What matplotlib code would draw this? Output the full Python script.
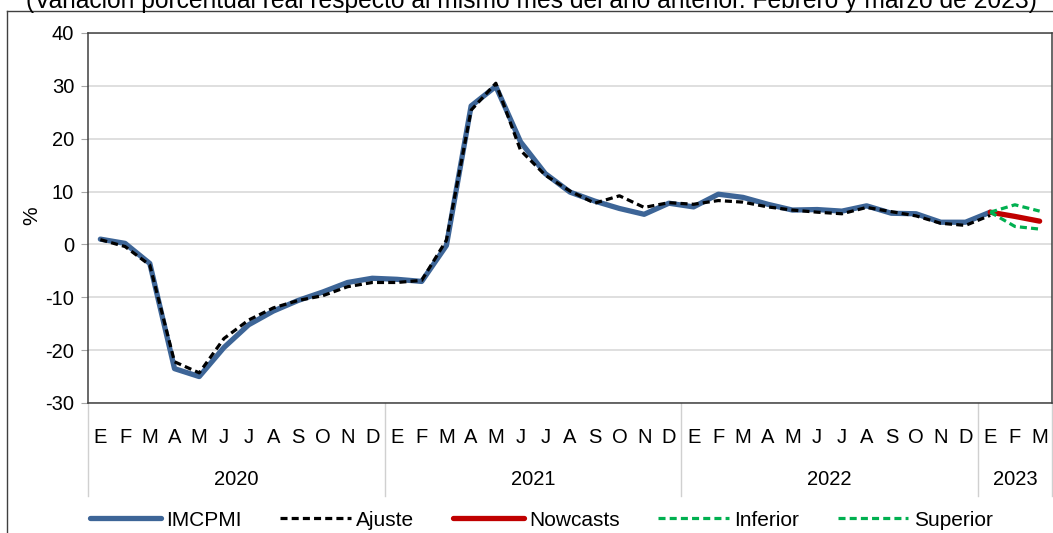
import matplotlib
matplotlib.use('Agg')
import matplotlib.pyplot as plt
import matplotlib.transforms as mtransforms
from matplotlib.lines import Line2D

plt.rcParams['font.family'] = ['Liberation Sans', 'DejaVu Sans']
plt.rcParams['axes.unicode_minus'] = False

months = ['E', 'F', 'M', 'A', 'M', 'J', 'J', 'A', 'S', 'O', 'N', 'D'] * 3 + ['E', 'F', 'M']
years = ['2020', '2021', '2022', '2023']
year_len = [12, 12, 12, 3]

imcpmi = [1.0, 0.2, -3.6, -23.5, -25.0, -19.5, -15.2, -12.6, -10.6, -9.0, -7.2, -6.4,
          -6.6, -7.0, -0.2, 26.2, 29.9, 19.4, 13.4, 9.9, 8.2, 6.8, 5.7, 7.8,
          7.1, 9.5, 8.9, 7.6, 6.5, 6.6, 6.3, 7.3, 5.9, 5.8, 4.2, 4.2,
          6.1]
ajuste = [0.9, -0.4, -3.9, -22.2, -24.3, -17.8, -14.3, -12.0, -10.6, -9.7, -8.0, -7.2,
          -7.2, -6.8, 0.8, 25.4, 30.5, 17.8, 13.1, 10.1, 7.8, 9.2, 7.0, 7.9,
          7.6, 8.3, 8.0, 7.1, 6.5, 6.1, 5.8, 7.0, 6.2, 5.4, 4.0, 3.6,
          5.5]
nowcast = [6.1, 5.3, 4.4]
inferior = [6.1, 3.4, 2.9]
superior = [6.1, 7.5, 6.3]

n = len(months)
x = list(range(n))
xf = x[36:39]

blue = '#3D6597'
dash = (0, (2.2, 1.3))

fig = plt.figure(figsize=(10.53, 5.33), dpi=100)
ax = fig.add_axes([88/1053, 1-403/533, (1052-88)/1053, (403-33)/533])

ax.plot(x[:len(imcpmi)], imcpmi, color=blue, lw=3.8, solid_capstyle='round', zorder=3)
ax.plot(x[:len(ajuste)], ajuste, color='black', lw=2.3, ls=dash, zorder=4)
ax.plot(xf, nowcast, color='#C00000', lw=3.8, solid_capstyle='round', zorder=5)
ax.plot(xf, inferior, color='#00B050', lw=2.3, ls=dash, zorder=5)
ax.plot(xf, superior, color='#00B050', lw=2.3, ls=dash, zorder=5)

ax.set_xlim(-0.5, n - 0.5)
ax.set_ylim(-30, 40)
ax.set_yticks(range(-30, 41, 10))
ax.yaxis.grid(True, color='#D9D9D9', lw=1.2)
ax.set_axisbelow(True)
ax.tick_params(axis='y', labelsize=14.5, length=5, color='#A6A6A6', pad=5)
ax.set_xticks([])
for s in ax.spines.values():
    s.set_color('#404040')
    s.set_linewidth(1.1)
ax.set_ylabel('%', fontsize=15)
ax.yaxis.set_label_coords(-0.048, 0.505)

trans = mtransforms.blended_transform_factory(ax.transData, ax.transAxes)
for i, m in enumerate(months):
    ax.text(i, -0.092, m, transform=trans, ha='center', va='center', fontsize=14.5, clip_on=False)
start = 0
for yr, ln in zip(years, year_len):
    ax.text(start + (ln - 1) / 2, -0.208, yr, transform=trans, ha='center', va='center',
            fontsize=14.5, clip_on=False)
    ax.add_line(Line2D([start - 0.5, start - 0.5], [0, -0.25], transform=trans,
                       color='#D0D0D0', lw=1, clip_on=False))
    start += ln
ax.add_line(Line2D([n - 0.5, n - 0.5], [0, -0.25], transform=trans,
                   color='#D0D0D0', lw=1, clip_on=False))

# legend
handles = [Line2D([], [], color=blue, lw=3.8, solid_capstyle='round'),
           Line2D([], [], color='black', lw=2.3, ls=dash),
           Line2D([], [], color='#C00000', lw=3.8, solid_capstyle='round'),
           Line2D([], [], color='#00B050', lw=2.3, ls=dash),
           Line2D([], [], color='#00B050', lw=2.3, ls=dash)]
labels = ['IMCPMI', 'Ajuste', 'Nowcasts', 'Inferior', 'Superior']
fig.legend(handles, labels, loc='center', bbox_to_anchor=(0.514, 1-520/533), ncol=5,
           frameon=False, fontsize=15, handlelength=3.4, handletextpad=0.25,
           columnspacing=1.85)

# chart frame (partially visible)
fig.add_artist(Line2D([7/1053, 7/1053], [0, 1-11/533], transform=fig.transFigure,
                      color='#404040', lw=1))
fig.add_artist(Line2D([7/1053, 1], [1-11/533, 1-11/533], transform=fig.transFigure,
                      color='#404040', lw=1))

fig.text(0.505, 1-8/533, '(Variación porcentual real respecto al mismo mes del año anterior. Febrero y marzo de 2023)',
         ha='center', va='baseline', fontsize=17.7)

fig.savefig('out.png', dpi=100)
